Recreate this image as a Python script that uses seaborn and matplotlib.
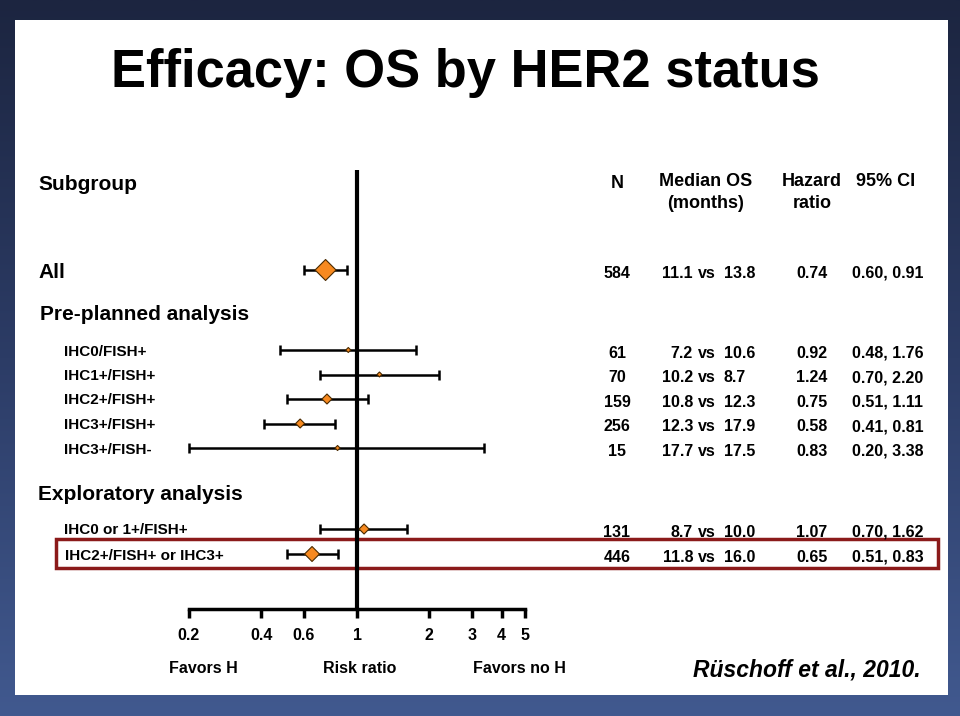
import numpy as np
import pandas as pd
import matplotlib.pyplot as plt
import seaborn as sns
from matplotlib.patches import Rectangle
from matplotlib.colors import LinearSegmentedColormap

# Values
subgroups = ["All", "IHC0/FISH+", "IHC1+/FISH+", "IHC2+/FISH+", "IHC3+/FISH+",
             "IHC3+/FISH-", "IHC0 or 1+/FISH+", "IHC2+/FISH+ or IHC3+"]
n_patients = [584, 61, 70, 159, 256, 15, 131, 446]
os_control = ["11.1", "7.2", "10.2", "10.8", "12.3", "17.7", "8.7", "11.8"]
os_trastuzumab = ["13.8", "10.6", "8.7", "12.3", "17.9", "17.5", "10.0", "16.0"]
hazard_ratio = [0.74, 0.92, 1.24, 0.75, 0.58, 0.83, 1.07, 0.65]
ci_low = [0.60, 0.48, 0.70, 0.51, 0.41, 0.20, 0.70, 0.51]
ci_high = [0.91, 1.76, 2.20, 1.11, 0.81, 3.38, 1.62, 0.83]
tick_values = [0.2, 0.4, 0.6, 1, 2, 3, 4, 5]
section_labels = ["Pre-planned analysis", "Exploratory analysis"]

df = pd.DataFrame({
    "subgroup": subgroups, "n": n_patients, "hr": hazard_ratio,
    "lo": ci_low, "hi": ci_high,
})

# layout (pixel rows of the slide) and marker styling
row_y = [270, 350, 374.5, 399, 423.5, 448, 529, 554]
label_x = [38, 64, 64, 64, 64, 64, 64, 65]
section_y = [313, 492]
section_x = [40, 38]
marker_area = [114, 6.5, 6.5, 26, 21, 6.5, 26, 58]
df["y"] = row_y

sns.set_theme(style="white")
plt.rcParams['font.family'] = ['Liberation Sans', 'DejaVu Sans']
plt.rcParams['font.weight'] = 'bold'
plt.rcParams['text.color'] = 'black'
plt.rcParams['xtick.color'] = 'black'
plt.rcParams['xtick.labelcolor'] = 'black'

W, H = 960, 716
fig = plt.figure(figsize=(W / 100, H / 100), dpi=100)

# background axes in pixel units: slide frame, texts, highlight box
bg = fig.add_axes([0, 0, 1, 1])
bg.set_xlim(0, W)
bg.set_ylim(H, 0)
bg.axis("off")
frame_cmap = LinearSegmentedColormap.from_list("frame", ["#1c2540", "#2c3c66", "#41598f"])
bg.imshow(np.linspace(0, 1, 256).reshape(-1, 1), cmap=frame_cmap,
          extent=[0, W, H, 0], aspect="auto", zorder=0)
bg.add_patch(Rectangle((15, 20), 948 - 15, 695 - 20, facecolor="white",
                       edgecolor="none", zorder=1))


def put(x, y, s, size, ha="left", **kw):
    # place text so its cap height is centred on y (pixel rows)
    bg.text(x, y + 0.5 * size, s, fontsize=size, fontweight="bold", ha=ha,
            va="baseline", zorder=3, **kw)


put(465, 68, "Efficacy: OS by HER2 status", 37.8, ha="center")

put(38, 182, "Subgroup", 15)
put(617, 182, "N", 13, ha="center")
put(706, 180, "Median OS", 13, ha="center")
put(706, 202, "(months)", 13, ha="center")
put(812, 180, "Hazard", 13, ha="center")
put(812, 202, "ratio", 13, ha="center")
put(886, 180, "95% CI", 13, ha="center")

for lab, sx, sy in zip(section_labels, section_x, section_y):
    put(sx, sy, lab, 15)

for i, r in df.iterrows():
    y = r["y"] + 2
    put(label_x[i], r["y"], r["subgroup"], 15 if i == 0 else 11)
    put(617, y, str(r["n"]), 11.5, ha="center")
    put(693, y, os_control[i], 11.5, ha="right")
    put(707, y, "vs", 11.5, ha="center")
    put(724, y, os_trastuzumab[i], 11.5)
    put(812, y, f"{r['hr']:.2f}", 11.5, ha="center")
    put(888, y, f"{r['lo']:.2f}, {r['hi']:.2f}", 11.5, ha="center")

# highlight box around the last subgroup
bg.add_patch(Rectangle((56, 539), 938 - 56, 568 - 539, fill=False,
                       edgecolor="#8b1a1a", linewidth=2.5, zorder=2))

put(203, 667, "Favors H", 11.5, ha="center")
put(360, 667, "Risk ratio", 11.5, ha="center")
put(519, 667, "Favors no H", 11.5, ha="center")
put(807, 668, "Rüschoff et al., 2010.", 16.5, ha="center", fontstyle="italic")

# forest plot axes: x log scale 0.2..5, y in slide pixels
ax = fig.add_axes([189 / W, (H - 609) / H, 336 / W, 439 / H])
ax.set_facecolor("none")
ax.set_xscale("log")
ax.set_xlim(min(tick_values), max(tick_values))
ax.set_ylim(609, 170)

ax.errorbar(df["hr"], df["y"], xerr=[df["hr"] - df["lo"], df["hi"] - df["hr"]],
            fmt="none", ecolor="black", elinewidth=1.8, capsize=3.3, capthick=1.8,
            clip_on=False, zorder=2)
ax.axvline(1, color="black", linewidth=3, zorder=3)
sns.scatterplot(data=df, x="hr", y="y", marker="D", s=marker_area, color="#f7891f",
                edgecolor="#4a2a00", linewidth=0.8, legend=False, ax=ax,
                zorder=4, clip_on=False)

for side in ["top", "left", "right"]:
    ax.spines[side].set_visible(False)
ax.spines["bottom"].set_linewidth(2.5)
ax.spines["bottom"].set_color("black")
ax.set_xticks(tick_values, [f"{v:g}" for v in tick_values])
ax.minorticks_off()
ax.tick_params(axis="x", bottom=True, direction="out", length=6.5, width=2.5,
               color="black", labelcolor="black", pad=7, labelsize=11.5)
for t in ax.get_xticklabels():
    t.set_fontweight("bold")
ax.set_yticks([])
ax.set_xlabel("")
ax.set_ylabel("")

fig.savefig("out.png", dpi=100)
